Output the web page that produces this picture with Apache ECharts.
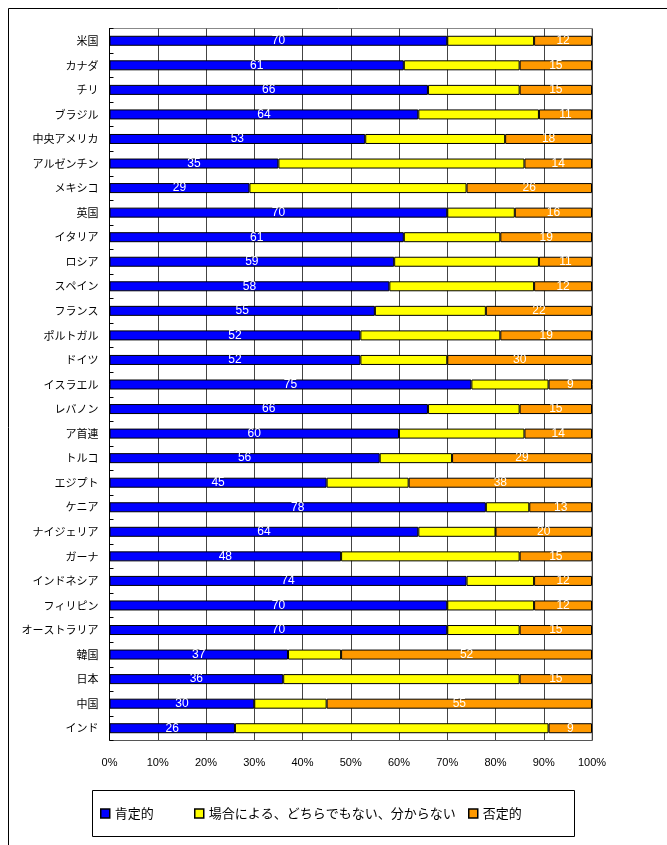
<!DOCTYPE html>
<html>
<head>
<meta charset="utf-8">
<script src="https://cdn.jsdelivr.net/npm/echarts@6/dist/echarts.min.js"></script>
<style>
html,body{margin:0;padding:0;background:#fff;}
#chart{width:667px;height:845px;}
</style>
</head>
<body>
<div id="chart"></div>
<script>
var categories = ['米国','カナダ','チリ','ブラジル','中央アメリカ','アルゼンチン','メキシコ','英国','イタリア','ロシア','スペイン','フランス','ポルトガル','ドイツ','イスラエル','レバノン','ア首連','トルコ','エジプト','ケニア','ナイジェリア','ガーナ','インドネシア','フィリピン','オーストラリア','韓国','日本','中国','インド'];
var positive = [70,61,66,64,53,35,29,70,61,59,58,55,52,52,75,66,60,56,45,78,64,48,74,70,70,37,36,30,26];
var neutral  = [18,24,19,25,29,51,45,14,20,30,30,23,29,18,16,19,26,15,17,9,16,37,14,18,15,11,49,15,65];
var negative = [12,15,15,11,18,14,26,16,19,11,12,22,19,30,9,15,14,29,38,13,20,15,12,12,15,52,15,55,9];
var xTicks = [0,10,20,30,40,50,60,70,80,90,100];
var seriesNames = ['肯定的','場合による、どちらでもない、分からない','否定的'];

var font = '"Noto Sans CJK JP", "Liberation Sans", sans-serif';
var chart = echarts.init(document.getElementById('chart'), null, {renderer:'canvas'});

function barSeries(name, data, color, showLabel){
  return {
    name: name, type: 'bar', stack: 'all', data: data, barWidth: 10,
    itemStyle: {color: color, borderColor: '#000', borderWidth: 1},
    label: {show: showLabel, position: 'inside', color: '#fff', fontSize: 12, fontFamily: '"Liberation Sans", sans-serif'},
    emphasis: {disabled: true},
    animation: false
  };
}
function legendAt(left, name){
  return {
    left: left, top: 807, padding: 0, data: [name], icon: 'rect', itemWidth: 9, itemHeight: 9, itemGap: 0,
    itemStyle: {borderColor: '#000', borderWidth: 1.5},
    textStyle: {fontSize: 13, color: '#000', fontFamily: font, padding: [0,0,0,0]},
    selectedMode: false
  };
}

chart.setOption({
  backgroundColor: '#fff',
  animation: false,
  textStyle: {fontFamily: font},
  grid: {left: 109.5, right: 75, top: 28.5, bottom: 104.5, show: true, borderColor: '#888', borderWidth: 1, containLabel: false},
  xAxis: {
    type: 'value', min: xTicks[0], max: xTicks[xTicks.length-1], interval: 10,
    axisLine: {show: true, lineStyle: {color: '#555'}},
    axisTick: {show: false},
    axisLabel: {formatter: '{value}%', color: '#000', fontSize: 11, margin: 17, fontFamily: '"Liberation Sans", sans-serif'},
    splitLine: {show: true, lineStyle: {color: '#444', width: 1}}
  },
  yAxis: {
    type: 'category', data: categories, inverse: true,
    axisLine: {show: true, lineStyle: {color: '#000', width: 1}},
    axisTick: {show: true, inside: true, length: 4, lineStyle: {color: '#000'}},
    axisLabel: {color: '#000', fontSize: 11, margin: 11, fontFamily: font},
    splitLine: {show: false}
  },
  legend: [legendAt(100, seriesNames[0]), legendAt(194, seriesNames[1]), legendAt(468, seriesNames[2])],
  series: [
    barSeries(seriesNames[0], positive, '#0000FF', true),
    barSeries(seriesNames[1], neutral, '#FFFF00', false),
    barSeries(seriesNames[2], negative, '#FF9900', true)
  ],
  graphic: [
    {type: 'rect', shape: {x: 8.5, y: 8.5, width: 700, height: 900}, style: {fill: 'none', stroke: '#000', lineWidth: 1}, silent: true},
    {type: 'rect', shape: {x: 92.5, y: 790.5, width: 482, height: 46}, style: {fill: 'none', stroke: '#000', lineWidth: 1}, silent: true}
  ]
});
</script>
</body>
</html>
